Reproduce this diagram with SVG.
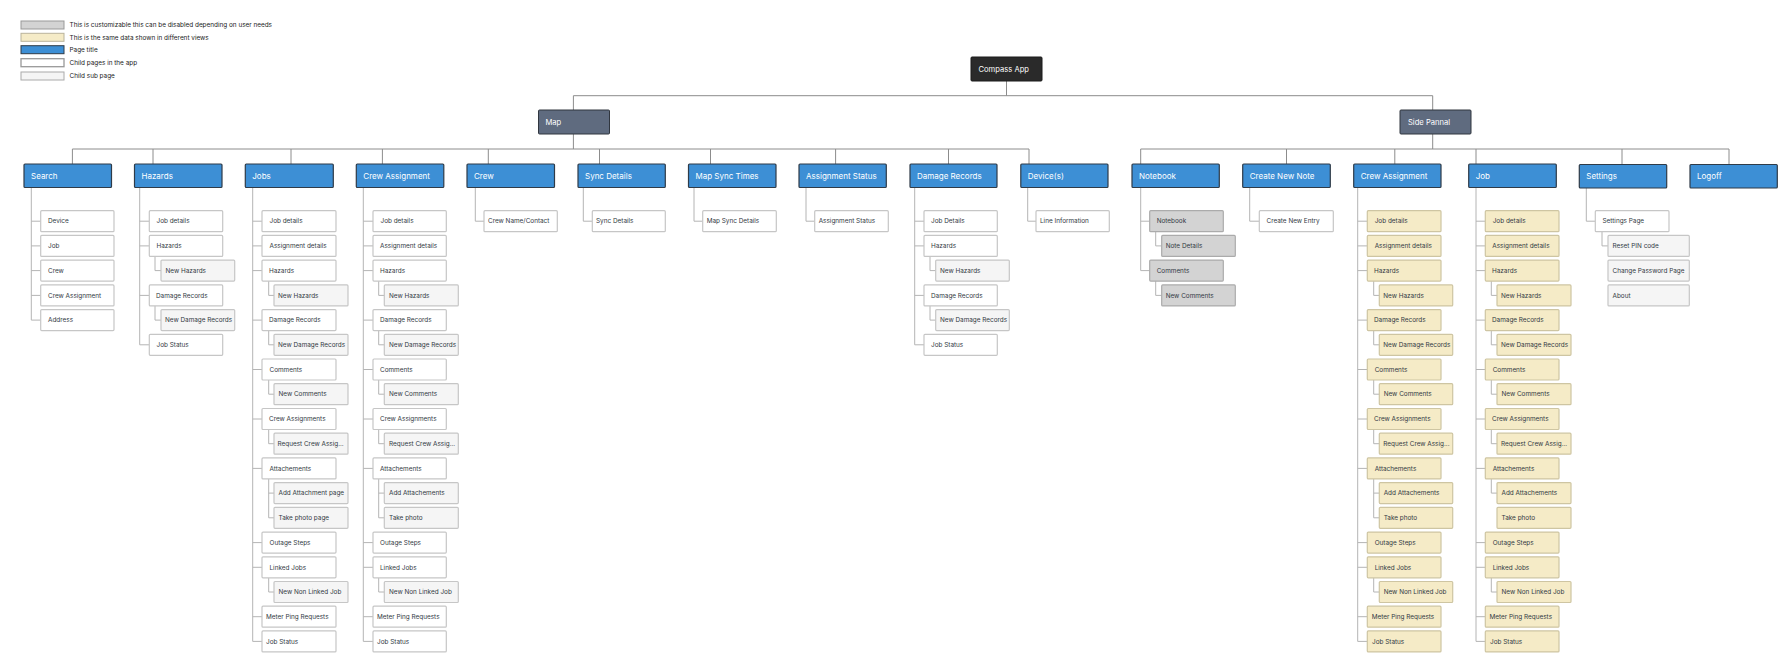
<svg xmlns="http://www.w3.org/2000/svg" width="1786" height="658" viewBox="0 0 1786 658">
<style>
.t{fill:#3d8fd5;stroke:#2f3b48;stroke-width:1.2}
.hub{fill:#5f6b7f;stroke:#30363f;stroke-width:1}
.root{fill:#2a2a2a;stroke:#1a1a1a;stroke-width:1}
.c{fill:#fff;stroke:#c6c6c6;stroke-width:1.2}
.s{fill:#f5f5f5;stroke:#c6c6c6;stroke-width:1.2}
.g{fill:#d3d3d3;stroke:#ababab;stroke-width:1.2}
.y{fill:#f5ebc7;stroke:#cec5a2;stroke-width:1.2}
text{font-family:Inter,"Liberation Sans",sans-serif}
.tt{fill:#fff;font-size:8px}
.rt{fill:#fff;font-size:7.6px}
.ct{fill:#333a44;font-size:6.4px}
.lt{fill:#222;font-size:6.4px}
.bar{fill:none;stroke:#8c8c8c;stroke-width:1}
.cl{fill:none;stroke:#b4b4b4;stroke-width:1}
</style>
<rect width="1786" height="658" fill="#fff"/>

<g id="legend">
<rect x="21" y="21" width="43" height="8" fill="#d3d3d3" stroke="#999"/>
<text class="lt" x="69.5" y="27.3">This is customizable this can be disabled depending on user needs</text>
<rect x="21" y="33.3" width="43" height="8" fill="#f5ebc7" stroke="#b9b39b"/>
<text class="lt" x="69.5" y="39.6">This is the same data shown in different views</text>
<rect x="21" y="45.7" width="43" height="8" fill="#3d8fd5" stroke="#2f3b48"/>
<text class="lt" x="69.5" y="52">Page title</text>
<rect x="21" y="58.7" width="43" height="8" fill="#fff" stroke="#999" stroke-width="1.3"/>
<text class="lt" x="69.5" y="65">Child pages in the app</text>
<rect x="21" y="72" width="43" height="8" fill="#f5f5f5" stroke="#aaa"/>
<text class="lt" x="69.5" y="78.3">Child sub page</text>
</g>

<g id="connectors">
<path class="bar" d="M1006.5 81V95.7M573.4 95.7H1432.7M573.4 95.7V110M1432.7 95.7V110"/>
<path class="bar" d="M573.4 134V149M72.4 149H1029M72.4 149V164M153 149V164M291 149V164M382.4 149V164M488.3 149V164M599.5 149V164M710.5 149V164M835.6 149V164M948.5 149V164M1029 149V164"/>
<path class="bar" d="M1432.7 134V149M1140.7 149H1729M1140.7 149V164M1286.5 149V164M1394.8 149V164M1476 149V164M1622 149V164M1729 149V164"/>
<!-- Search -->
<path class="cl" d="M31.3 187.5V320.1M31.3 221.2H40.7M31.3 245.9H40.7M31.3 270.6H40.7M31.3 295.4H40.7M31.3 320.1H40.7"/>
<!-- Hazards -->
<path class="cl" d="M139.7 187.5V344.8M139.7 221.2H149.3M139.7 245.9H149.3M139.7 295.4H149.3M139.7 344.8H149.3M155 256.4V270.6H161M155 305.9V320.1H161"/>
<!-- Jobs -->
<path class="cl" d="M252.7 187.5V641.4M252.7 221.2H262M252.7 245.9H262M252.7 270.6H262M252.7 320.1H262M252.7 369.5H262M252.7 419H262M252.7 468.4H262M252.7 542.6H262M252.7 567.3H262M252.7 616.7H262M252.7 641.4H262M268.7 281.1V295.4H274M268.7 330.6V344.8H274M268.7 380V394.2H274M268.7 429.5V443.7H274M268.7 478.9V517.8H274M268.7 493.1H274M268.7 577.8V592H274"/>
<!-- Crew Assignment (map) -->
<path class="cl" d="M363.3 187.5V641.4M363.3 221.2H373M363.3 245.9H373M363.3 270.6H373M363.3 320.1H373M363.3 369.5H373M363.3 419H373M363.3 468.4H373M363.3 542.6H373M363.3 567.3H373M363.3 616.7H373M363.3 641.4H373M378.7 281.1V295.4H384.3M378.7 330.6V344.8H384.3M378.7 380V394.2H384.3M378.7 429.5V443.7H384.3M378.7 478.9V517.8H384.3M378.7 493.1H384.3M378.7 577.8V592H384.3"/>
<!-- single-child columns -->
<path class="cl" d="M475.3 187.5V221.2H484M583.3 187.5V221.2H592.3M694 187.5V221.2H702.7M806 187.5V221.2H814.7M1027.7 187.5V221.2H1036M1249.7 187.5V221.2H1259.3"/>
<!-- Damage Records -->
<path class="cl" d="M914.7 187.5V344.8M914.7 221.2H924M914.7 245.9H924M914.7 295.4H924M914.7 344.8H924M930 256.4V270.6H935.7M930 305.9V320.1H935.7"/>
<!-- Notebook -->
<path class="cl" d="M1140.7 187.5V270.6M1140.7 221.2H1149.7M1140.7 270.6H1149.7M1155.7 231.7V245.9H1161.7M1155.7 281.1V295.4H1161.7"/>
<!-- Crew Assignment (side) -->
<path class="cl" d="M1357.7 187.5V641.4M1357.7 221.2H1367.3M1357.7 245.9H1367.3M1357.7 270.6H1367.3M1357.7 320.1H1367.3M1357.7 369.5H1367.3M1357.7 419H1367.3M1357.7 468.4H1367.3M1357.7 542.6H1367.3M1357.7 567.3H1367.3M1357.7 616.7H1367.3M1357.7 641.4H1367.3M1373.7 281.1V295.4H1379.3M1373.7 330.6V344.8H1379.3M1373.7 380V394.2H1379.3M1373.7 429.5V443.7H1379.3M1373.7 478.9V517.8H1379.3M1373.7 493.1H1379.3M1373.7 577.8V592H1379.3"/>
<!-- Job (side) -->
<path class="cl" d="M1476 187.5V641.4M1476 221.2H1485.3M1476 245.9H1485.3M1476 270.6H1485.3M1476 320.1H1485.3M1476 369.5H1485.3M1476 419H1485.3M1476 468.4H1485.3M1476 542.6H1485.3M1476 567.3H1485.3M1476 616.7H1485.3M1476 641.4H1485.3M1491.3 281.1V295.4H1497M1491.3 330.6V344.8H1497M1491.3 380V394.2H1497M1491.3 429.5V443.7H1497M1491.3 478.9V493.1H1497M1491.3 577.8V592H1497"/>
<!-- Settings -->
<path class="cl" d="M1586.3 188V221.2H1595.3M1602 231.7V245.9H1608"/>
</g>

<g id="root"><rect class="root" x="971" y="57" width="71" height="24" rx="1"/><text class="rt" x="978.5" y="71.7">Compass App</text></g>
<g id="hub-map"><rect class="hub" x="538.5" y="110" width="71" height="24" rx="1"/><text class="rt" x="545.5" y="124.7">Map</text></g>
<g id="hub-side"><rect class="hub" x="1400" y="110" width="71" height="24" rx="1"/><text class="rt" x="1408" y="124.7">Side Pannal</text></g>

<g id="t-search"><rect class="t" x="24" y="164" width="87.5" height="23.5" rx="1"/><text class="tt" x="31" y="178.6">Search</text></g>
<g id="t-hazards"><rect class="t" x="134.5" y="164" width="87.5" height="23.5" rx="1"/><text class="tt" x="141.5" y="178.6">Hazards</text></g>
<g id="t-jobs"><rect class="t" x="245.3" y="164" width="88" height="23.5" rx="1"/><text class="tt" x="252.3" y="178.6">Jobs</text></g>
<g id="t-crew-assignment"><rect class="t" x="356.3" y="164" width="87.5" height="23.5" rx="1"/><text class="tt" x="363.3" y="178.6">Crew Assignment</text></g>
<g id="t-crew"><rect class="t" x="467" y="164" width="87.5" height="23.5" rx="1"/><text class="tt" x="474" y="178.6">Crew</text></g>
<g id="t-sync-details"><rect class="t" x="578" y="164" width="87.3" height="23.5" rx="1"/><text class="tt" x="585" y="178.6">Sync Details</text></g>
<g id="t-map-sync-times"><rect class="t" x="688.5" y="164" width="87.5" height="23.5" rx="1"/><text class="tt" x="695.5" y="178.6">Map Sync Times</text></g>
<g id="t-assignment-status"><rect class="t" x="799" y="164" width="87.3" height="23.5" rx="1"/><text class="tt" x="806" y="178.6">Assignment Status</text></g>
<g id="t-damage-records"><rect class="t" x="910" y="164" width="87" height="23.5" rx="1"/><text class="tt" x="917" y="178.6">Damage Records</text></g>
<g id="t-devices"><rect class="t" x="1020.8" y="164" width="87.2" height="23.5" rx="1"/><text class="tt" x="1027.8" y="178.6">Device(s)</text></g>
<g id="t-notebook"><rect class="t" x="1132" y="164" width="87.3" height="23.5" rx="1"/><text class="tt" x="1139" y="178.6">Notebook</text></g>
<g id="t-create-new-note"><rect class="t" x="1242.7" y="164" width="87.6" height="23.5" rx="1"/><text class="tt" x="1249.7" y="178.6">Create New Note</text></g>
<g id="t-side-crew-assignment"><rect class="t" x="1353.7" y="164" width="87.3" height="23.5" rx="1"/><text class="tt" x="1360.7" y="178.6">Crew Assignment</text></g>
<g id="t-side-job"><rect class="t" x="1468.7" y="164" width="87.6" height="23.5" rx="1"/><text class="tt" x="1475.7" y="178.6">Job</text></g>
<g id="t-settings"><rect class="t" x="1579.3" y="164.5" width="87.4" height="23.5" rx="1"/><text class="tt" x="1586.3" y="179.1">Settings</text></g>
<g id="t-logoff"><rect class="t" x="1690" y="164.5" width="87.3" height="23.5" rx="1"/><text class="tt" x="1697" y="179.1">Logoff</text></g>

<!-- Search children -->
<g id="search-device"><rect class="c" x="40.7" y="210.7" width="73.3" height="21" rx="1"/><text class="ct" x="48" y="223.4">Device</text></g>
<g id="search-job"><rect class="c" x="40.7" y="235.4" width="73.3" height="21" rx="1"/><text class="ct" x="48" y="248.1">Job</text></g>
<g id="search-crew"><rect class="c" x="40.7" y="260.1" width="73.3" height="21" rx="1"/><text class="ct" x="48" y="272.8">Crew</text></g>
<g id="search-crew-assignment"><rect class="c" x="40.7" y="284.9" width="73.3" height="21" rx="1"/><text class="ct" x="48" y="297.6">Crew Assignment</text></g>
<g id="search-address"><rect class="c" x="40.7" y="309.6" width="73.3" height="21" rx="1"/><text class="ct" x="48" y="322.3">Address</text></g>

<!-- Hazards children -->
<g id="hz-job-details"><rect class="c" x="149.3" y="210.7" width="73.4" height="21" rx="1"/><text class="ct" x="156.5" y="223.4">Job details</text></g>
<g id="hz-hazards"><rect class="c" x="149.3" y="235.4" width="73.4" height="21" rx="1"/><text class="ct" x="156.5" y="248.1">Hazards</text></g>
<g id="hz-new-hazards"><rect class="s" x="161" y="260.1" width="73.7" height="21" rx="1"/><text class="ct" x="165.5" y="272.8">New Hazards</text></g>
<g id="hz-damage-records"><rect class="c" x="149.3" y="284.9" width="73.4" height="21" rx="1"/><text class="ct" x="156" y="297.6">Damage Records</text></g>
<g id="hz-new-damage-records"><rect class="s" x="161" y="309.6" width="73.7" height="21" rx="1"/><text class="ct" x="165" y="322.3">New Damage Records</text></g>
<g id="hz-job-status"><rect class="c" x="149.3" y="334.3" width="73.4" height="21" rx="1"/><text class="ct" x="156.5" y="347">Job Status</text></g>

<!-- Jobs children -->
<g id="jobs-job-details"><rect class="c" x="262" y="210.7" width="74" height="21" rx="1"/><text class="ct" x="269.5" y="223.4">Job details</text></g>
<g id="jobs-assignment-details"><rect class="c" x="262" y="235.4" width="74" height="21" rx="1"/><text class="ct" x="269.5" y="248.1">Assignment details</text></g>
<g id="jobs-hazards"><rect class="c" x="262" y="260.1" width="74" height="21" rx="1"/><text class="ct" x="269" y="272.8">Hazards</text></g>
<g id="jobs-new-hazards"><rect class="s" x="274" y="284.9" width="74" height="21" rx="1"/><text class="ct" x="278" y="297.6">New Hazards</text></g>
<g id="jobs-damage-records"><rect class="c" x="262" y="309.6" width="74" height="21" rx="1"/><text class="ct" x="269" y="322.3">Damage Records</text></g>
<g id="jobs-new-damage-records"><rect class="s" x="274" y="334.3" width="74" height="21" rx="1"/><text class="ct" x="278" y="347">New Damage Records</text></g>
<g id="jobs-comments"><rect class="c" x="262" y="359" width="74" height="21" rx="1"/><text class="ct" x="269.5" y="371.7">Comments</text></g>
<g id="jobs-new-comments"><rect class="s" x="274" y="383.7" width="74" height="21" rx="1"/><text class="ct" x="278.5" y="396.4">New Comments</text></g>
<g id="jobs-crew-assignments"><rect class="c" x="262" y="408.5" width="74" height="21" rx="1"/><text class="ct" x="269" y="421.2">Crew Assignments</text></g>
<g id="jobs-request-crew"><rect class="s" x="274" y="433.2" width="74" height="21" rx="1"/><text class="ct" x="277.5" y="445.9">Request Crew Assig...</text></g>
<g id="jobs-attachements"><rect class="c" x="262" y="457.9" width="74" height="21" rx="1"/><text class="ct" x="269.5" y="470.6">Attachements</text></g>
<g id="jobs-add-attachment"><rect class="s" x="274" y="482.6" width="74" height="21" rx="1"/><text class="ct" x="278.5" y="495.3">Add Attachment page</text></g>
<g id="jobs-take-photo"><rect class="s" x="274" y="507.3" width="74" height="21" rx="1"/><text class="ct" x="278.5" y="520">Take photo page</text></g>
<g id="jobs-outage-steps"><rect class="c" x="262" y="532.1" width="74" height="21" rx="1"/><text class="ct" x="269.5" y="544.8">Outage Steps</text></g>
<g id="jobs-linked-jobs"><rect class="c" x="262" y="556.8" width="74" height="21" rx="1"/><text class="ct" x="269.5" y="569.5">Linked Jobs</text></g>
<g id="jobs-new-non-linked"><rect class="s" x="274" y="581.5" width="74" height="21" rx="1"/><text class="ct" x="278.5" y="594.2">New Non Linked Job</text></g>
<g id="jobs-meter-ping"><rect class="c" x="262" y="606.2" width="74" height="21" rx="1"/><text class="ct" x="266" y="618.9">Meter Ping Requests</text></g>
<g id="jobs-job-status"><rect class="c" x="262" y="630.9" width="74" height="21" rx="1"/><text class="ct" x="266" y="643.6">Job Status</text></g>

<!-- Crew Assignment (map) children -->
<g id="ca-job-details"><rect class="c" x="373" y="210.7" width="73.3" height="21" rx="1"/><text class="ct" x="380.5" y="223.4">Job details</text></g>
<g id="ca-assignment-details"><rect class="c" x="373" y="235.4" width="73.3" height="21" rx="1"/><text class="ct" x="380" y="248.1">Assignment details</text></g>
<g id="ca-hazards"><rect class="c" x="373" y="260.1" width="73.3" height="21" rx="1"/><text class="ct" x="380" y="272.8">Hazards</text></g>
<g id="ca-new-hazards"><rect class="s" x="384.3" y="284.9" width="74" height="21" rx="1"/><text class="ct" x="389" y="297.6">New Hazards</text></g>
<g id="ca-damage-records"><rect class="c" x="373" y="309.6" width="73.3" height="21" rx="1"/><text class="ct" x="380" y="322.3">Damage Records</text></g>
<g id="ca-new-damage-records"><rect class="s" x="384.3" y="334.3" width="74" height="21" rx="1"/><text class="ct" x="389" y="347">New Damage Records</text></g>
<g id="ca-comments"><rect class="c" x="373" y="359" width="73.3" height="21" rx="1"/><text class="ct" x="380" y="371.7">Comments</text></g>
<g id="ca-new-comments"><rect class="s" x="384.3" y="383.7" width="74" height="21" rx="1"/><text class="ct" x="389" y="396.4">New Comments</text></g>
<g id="ca-crew-assignments"><rect class="c" x="373" y="408.5" width="73.3" height="21" rx="1"/><text class="ct" x="380" y="421.2">Crew Assignments</text></g>
<g id="ca-request-crew"><rect class="s" x="384.3" y="433.2" width="74" height="21" rx="1"/><text class="ct" x="389" y="445.9">Request Crew Assig...</text></g>
<g id="ca-attachements"><rect class="c" x="373" y="457.9" width="73.3" height="21" rx="1"/><text class="ct" x="380" y="470.6">Attachements</text></g>
<g id="ca-add-attachements"><rect class="s" x="384.3" y="482.6" width="74" height="21" rx="1"/><text class="ct" x="389" y="495.3">Add Attachements</text></g>
<g id="ca-take-photo"><rect class="s" x="384.3" y="507.3" width="74" height="21" rx="1"/><text class="ct" x="389" y="520">Take photo</text></g>
<g id="ca-outage-steps"><rect class="c" x="373" y="532.1" width="73.3" height="21" rx="1"/><text class="ct" x="380" y="544.8">Outage Steps</text></g>
<g id="ca-linked-jobs"><rect class="c" x="373" y="556.8" width="73.3" height="21" rx="1"/><text class="ct" x="380" y="569.5">Linked Jobs</text></g>
<g id="ca-new-non-linked"><rect class="s" x="384.3" y="581.5" width="74" height="21" rx="1"/><text class="ct" x="389" y="594.2">New Non Linked Job</text></g>
<g id="ca-meter-ping"><rect class="c" x="373" y="606.2" width="73.3" height="21" rx="1"/><text class="ct" x="377" y="618.9">Meter Ping Requests</text></g>
<g id="ca-job-status"><rect class="c" x="373" y="630.9" width="73.3" height="21" rx="1"/><text class="ct" x="377" y="643.6">Job Status</text></g>

<!-- single children -->
<g id="crew-name-contact"><rect class="c" x="484" y="210.7" width="73.3" height="21" rx="1"/><text class="ct" x="488" y="223.4">Crew Name/Contact</text></g>
<g id="sync-details-child"><rect class="c" x="592.3" y="210.7" width="73" height="21" rx="1"/><text class="ct" x="596" y="223.4">Sync Details</text></g>
<g id="map-sync-details"><rect class="c" x="702.7" y="210.7" width="73.6" height="21" rx="1"/><text class="ct" x="706.7" y="223.4">Map Sync Details</text></g>
<g id="assignment-status-child"><rect class="c" x="814.7" y="210.7" width="73.6" height="21" rx="1"/><text class="ct" x="818.7" y="223.4">Assignment Status</text></g>

<!-- Damage Records children -->
<g id="dr-job-details"><rect class="c" x="924" y="210.7" width="73.3" height="21" rx="1"/><text class="ct" x="931" y="223.4">Job Details</text></g>
<g id="dr-hazards"><rect class="c" x="924" y="235.4" width="73.3" height="21" rx="1"/><text class="ct" x="931" y="248.1">Hazards</text></g>
<g id="dr-new-hazards"><rect class="s" x="935.7" y="260.1" width="73.6" height="21" rx="1"/><text class="ct" x="940" y="272.8">New Hazards</text></g>
<g id="dr-damage-records"><rect class="c" x="924" y="284.9" width="73.3" height="21" rx="1"/><text class="ct" x="931" y="297.6">Damage Records</text></g>
<g id="dr-new-damage-records"><rect class="s" x="935.7" y="309.6" width="73.6" height="21" rx="1"/><text class="ct" x="940" y="322.3">New Damage Records</text></g>
<g id="dr-job-status"><rect class="c" x="924" y="334.3" width="73.3" height="21" rx="1"/><text class="ct" x="931" y="347">Job Status</text></g>

<g id="line-information"><rect class="c" x="1036" y="210.7" width="73.3" height="21" rx="1"/><text class="ct" x="1040" y="223.4">Line Information</text></g>

<!-- Notebook children -->
<g id="nb-notebook"><rect class="g" x="1149.7" y="210.7" width="73.6" height="21" rx="1"/><text class="ct" x="1156.7" y="223.4">Notebook</text></g>
<g id="nb-note-details"><rect class="g" x="1161.7" y="235.4" width="73.6" height="21" rx="1"/><text class="ct" x="1165.7" y="248.1">Note Details</text></g>
<g id="nb-comments"><rect class="g" x="1149.7" y="260.1" width="73.6" height="21" rx="1"/><text class="ct" x="1156.7" y="272.8">Comments</text></g>
<g id="nb-new-comments"><rect class="g" x="1161.7" y="284.9" width="73.6" height="21" rx="1"/><text class="ct" x="1165.7" y="297.6">New Comments</text></g>

<g id="create-new-entry"><rect class="c" x="1259.3" y="210.7" width="74" height="21" rx="1"/><text class="ct" x="1266.5" y="223.4">Create New Entry</text></g>

<!-- Crew Assignment (side) children -->
<g id="sca-job-details"><rect class="y" x="1367.3" y="210.7" width="73.7" height="21" rx="1"/><text class="ct" x="1374.7" y="223.4">Job details</text></g>
<g id="sca-assignment-details"><rect class="y" x="1367.3" y="235.4" width="73.7" height="21" rx="1"/><text class="ct" x="1374.7" y="248.1">Assignment details</text></g>
<g id="sca-hazards"><rect class="y" x="1367.3" y="260.1" width="73.7" height="21" rx="1"/><text class="ct" x="1374" y="272.8">Hazards</text></g>
<g id="sca-new-hazards"><rect class="y" x="1379.3" y="284.9" width="73.4" height="21" rx="1"/><text class="ct" x="1383.3" y="297.6">New Hazards</text></g>
<g id="sca-damage-records"><rect class="y" x="1367.3" y="309.6" width="73.7" height="21" rx="1"/><text class="ct" x="1374" y="322.3">Damage Records</text></g>
<g id="sca-new-damage-records"><rect class="y" x="1379.3" y="334.3" width="73.4" height="21" rx="1"/><text class="ct" x="1383.3" y="347">New Damage Records</text></g>
<g id="sca-comments"><rect class="y" x="1367.3" y="359" width="73.7" height="21" rx="1"/><text class="ct" x="1374.7" y="371.7">Comments</text></g>
<g id="sca-new-comments"><rect class="y" x="1379.3" y="383.7" width="73.4" height="21" rx="1"/><text class="ct" x="1383.7" y="396.4">New Comments</text></g>
<g id="sca-crew-assignments"><rect class="y" x="1367.3" y="408.5" width="73.7" height="21" rx="1"/><text class="ct" x="1374" y="421.2">Crew Assignments</text></g>
<g id="sca-request-crew"><rect class="y" x="1379.3" y="433.2" width="73.4" height="21" rx="1"/><text class="ct" x="1383.3" y="445.9">Request Crew Assig...</text></g>
<g id="sca-attachements"><rect class="y" x="1367.3" y="457.9" width="73.7" height="21" rx="1"/><text class="ct" x="1374.7" y="470.6">Attachements</text></g>
<g id="sca-add-attachements"><rect class="y" x="1379.3" y="482.6" width="73.4" height="21" rx="1"/><text class="ct" x="1383.7" y="495.3">Add Attachements</text></g>
<g id="sca-take-photo"><rect class="y" x="1379.3" y="507.3" width="73.4" height="21" rx="1"/><text class="ct" x="1383.7" y="520">Take photo</text></g>
<g id="sca-outage-steps"><rect class="y" x="1367.3" y="532.1" width="73.7" height="21" rx="1"/><text class="ct" x="1374.7" y="544.8">Outage Steps</text></g>
<g id="sca-linked-jobs"><rect class="y" x="1367.3" y="556.8" width="73.7" height="21" rx="1"/><text class="ct" x="1374.7" y="569.5">Linked Jobs</text></g>
<g id="sca-new-non-linked"><rect class="y" x="1379.3" y="581.5" width="73.4" height="21" rx="1"/><text class="ct" x="1383.7" y="594.2">New Non Linked Job</text></g>
<g id="sca-meter-ping"><rect class="y" x="1367.3" y="606.2" width="73.7" height="21" rx="1"/><text class="ct" x="1371.7" y="618.9">Meter Ping Requests</text></g>
<g id="sca-job-status"><rect class="y" x="1367.3" y="630.9" width="73.7" height="21" rx="1"/><text class="ct" x="1372" y="643.6">Job Status</text></g>

<!-- Job (side) children -->
<g id="sj-job-details"><rect class="y" x="1485.3" y="210.7" width="73.7" height="21" rx="1"/><text class="ct" x="1492.7" y="223.4">Job details</text></g>
<g id="sj-assignment-details"><rect class="y" x="1485.3" y="235.4" width="73.7" height="21" rx="1"/><text class="ct" x="1492.3" y="248.1">Assignment details</text></g>
<g id="sj-hazards"><rect class="y" x="1485.3" y="260.1" width="73.7" height="21" rx="1"/><text class="ct" x="1492" y="272.8">Hazards</text></g>
<g id="sj-new-hazards"><rect class="y" x="1497" y="284.9" width="74" height="21" rx="1"/><text class="ct" x="1501" y="297.6">New Hazards</text></g>
<g id="sj-damage-records"><rect class="y" x="1485.3" y="309.6" width="73.7" height="21" rx="1"/><text class="ct" x="1492" y="322.3">Damage Records</text></g>
<g id="sj-new-damage-records"><rect class="y" x="1497" y="334.3" width="74" height="21" rx="1"/><text class="ct" x="1501" y="347">New Damage Records</text></g>
<g id="sj-comments"><rect class="y" x="1485.3" y="359" width="73.7" height="21" rx="1"/><text class="ct" x="1492.7" y="371.7">Comments</text></g>
<g id="sj-new-comments"><rect class="y" x="1497" y="383.7" width="74" height="21" rx="1"/><text class="ct" x="1501.5" y="396.4">New Comments</text></g>
<g id="sj-crew-assignments"><rect class="y" x="1485.3" y="408.5" width="73.7" height="21" rx="1"/><text class="ct" x="1492" y="421.2">Crew Assignments</text></g>
<g id="sj-request-crew"><rect class="y" x="1497" y="433.2" width="74" height="21" rx="1"/><text class="ct" x="1501" y="445.9">Request Crew Assig...</text></g>
<g id="sj-attachements"><rect class="y" x="1485.3" y="457.9" width="73.7" height="21" rx="1"/><text class="ct" x="1492.7" y="470.6">Attachements</text></g>
<g id="sj-add-attachements"><rect class="y" x="1497" y="482.6" width="74" height="21" rx="1"/><text class="ct" x="1501.5" y="495.3">Add Attachements</text></g>
<g id="sj-take-photo"><rect class="y" x="1497" y="507.3" width="74" height="21" rx="1"/><text class="ct" x="1501.5" y="520">Take photo</text></g>
<g id="sj-outage-steps"><rect class="y" x="1485.3" y="532.1" width="73.7" height="21" rx="1"/><text class="ct" x="1492.7" y="544.8">Outage Steps</text></g>
<g id="sj-linked-jobs"><rect class="y" x="1485.3" y="556.8" width="73.7" height="21" rx="1"/><text class="ct" x="1492.7" y="569.5">Linked Jobs</text></g>
<g id="sj-new-non-linked"><rect class="y" x="1497" y="581.5" width="74" height="21" rx="1"/><text class="ct" x="1501.5" y="594.2">New Non Linked Job</text></g>
<g id="sj-meter-ping"><rect class="y" x="1485.3" y="606.2" width="73.7" height="21" rx="1"/><text class="ct" x="1489.5" y="618.9">Meter Ping Requests</text></g>
<g id="sj-job-status"><rect class="y" x="1485.3" y="630.9" width="73.7" height="21" rx="1"/><text class="ct" x="1490" y="643.6">Job Status</text></g>

<!-- Settings children -->
<g id="settings-page"><rect class="c" x="1595.3" y="210.7" width="73.7" height="21" rx="1"/><text class="ct" x="1602.5" y="223.4">Settings Page</text></g>
<g id="reset-pin"><rect class="s" x="1608" y="235.4" width="81.3" height="21" rx="1"/><text class="ct" x="1612.5" y="248.1">Reset PIN code</text></g>
<g id="change-password"><rect class="s" x="1608" y="260.1" width="81.3" height="21" rx="1"/><text class="ct" x="1612.5" y="272.8">Change Password Page</text></g>
<g id="about"><rect class="s" x="1608" y="284.9" width="81.3" height="21" rx="1"/><text class="ct" x="1612.5" y="297.6">About</text></g>
</svg>
